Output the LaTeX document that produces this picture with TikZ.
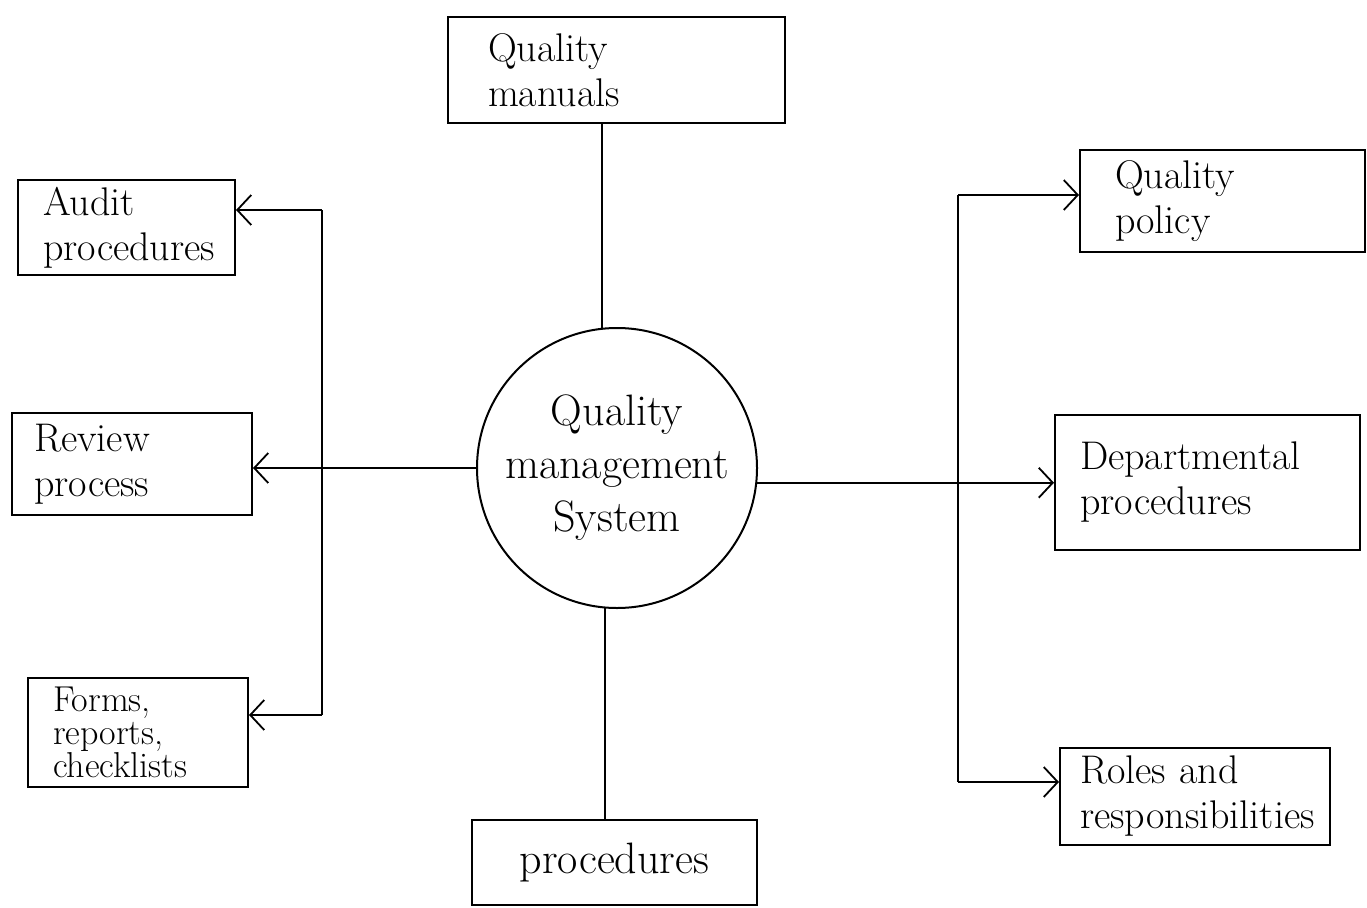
\documentclass[tikz,border=0pt]{standalone}
\usetikzlibrary{arrows.meta}
\begin{document}
\begin{tikzpicture}[x=1pt,y=-1pt,
  boxfont/.style={font=\fontsize{40}{45}\selectfont},
  box/.style={draw,line width=2pt,inner ysep=0pt,align=left,anchor=center,boxfont},
  link/.style={line width=1.8pt},
  arr/.style={line width=1.8pt,-{Straight Barb[length=14pt,width=30pt,line width=1.8pt]}}
]
\useasboundingbox (0,0) rectangle (1367,907);
\fill[white] (0,0) rectangle (1367,907);

\node[box,inner xsep=40pt,text width=257pt,minimum height=106pt] (qm) at (616.5,70) {Quality\\manuals};
\node[box,inner xsep=25pt,text width=167pt,minimum height=95pt] (audit) at (126.5,227.5) {Audit\\procedures};
\node[box,inner xsep=22pt,text width=196pt,minimum height=102pt] (review) at (132,464) {Review\\process};
\node[box,inner xsep=25pt,text width=170pt,minimum height=109pt,font=\fontsize{36}{33}\selectfont] (forms) at (138,732.5) {Forms,\\reports,\\checklists};
\node[box,align=center,inner xsep=0pt,text width=285pt,minimum height=85pt,font=\fontsize{44}{48}\selectfont] (proc) at (614.5,862.5) {procedures};
\node[box,inner xsep=35pt,text width=215pt,minimum height=102pt] (qpol) at (1222.5,201) {Quality\\policy};
\node[box,inner xsep=25pt,text width=255pt,minimum height=135pt] (dept) at (1207.5,482.5) {Departmental\\procedures};
\node[box,inner xsep=20pt,text width=230pt,minimum height=97pt] (roles) at (1195,796.5) {Roles and\\responsibilities};

\node[draw,circle,line width=2pt,minimum size=280pt,inner sep=0pt,align=center,font=\fontsize{44}{53}\selectfont] (qms) at (617,468) {Quality\\management\\System};

\draw[link] (qms.96) -- (qms.96 |- qm.south);
\draw[link] (qms.-95) -- (qms.-95 |- proc.north);

% left side
\coordinate (lb1) at (322,210);
\coordinate (lb2) at (322,715);
\draw[arr] (qms.west) -- (qms.west -| review.east);
\draw[link] (lb1) -- (lb2);
\draw[arr] (lb1) -- (lb1 -| audit.east);
\draw[arr] (lb2) -- (lb2 -| forms.east);

% right side
\coordinate (rb1) at (958,195);
\coordinate (rb2) at (958,782);
\draw[arr] (qms.-6) -- (qms.-6 -| dept.west);
\draw[link] (rb1) -- (rb2);
\draw[arr] (rb1) -- (rb1 -| qpol.west);
\draw[arr] (rb2) -- (rb2 -| roles.west);
\end{tikzpicture}
\end{document}
